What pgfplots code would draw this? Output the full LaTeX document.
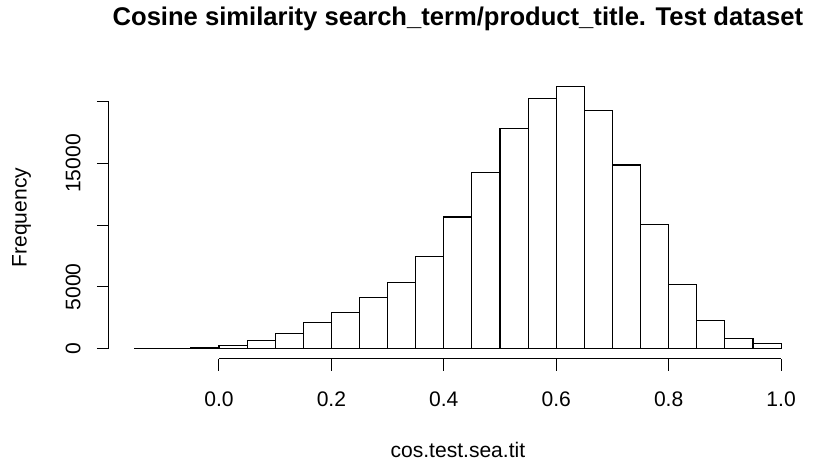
\documentclass[border=0pt]{standalone}
\usepackage{fontspec}
\setmainfont{Liberation Sans}
\usepackage{pgfplots}
\pgfplotsset{compat=1.18}
\begin{document}
\begin{tikzpicture}
\useasboundingbox (0,0) rectangle (612pt,346.5pt);
\begin{axis}[
  at={(81.6pt,77.4pt)}, anchor=south west,
  scale only axis, width=523.6pt, height=211.8pt,
  xmin=-0.196, xmax=1.046, ymin=-849, ymax=22069,
  clip=false,
  axis x line*=bottom, axis y line*=left,
  x axis line style={draw=none}, y axis line style={draw=none},
  scaled y ticks=false, scaled x ticks=false,
  xtick={0,0.2,0.4,0.6,0.8,1},
  xticklabels={0.0,0.2,0.4,0.6,0.8,1.0},
  ytick={0,5000,10000,15000,20000},
  yticklabels={0,5000,,15000,},
  tick align=outside, major tick length=9pt,
  tick style={black, line width=0.75pt},
  /pgf/number format/assume math mode=true,
  ticklabel style={font=\fontsize{15.8}{18}\selectfont, inner sep=0pt},
  xticklabel style={anchor=base},
  xticklabel shift=26.5pt,
  yticklabel style={rotate=90, anchor=south},
  yticklabel shift=12pt,
  title={Cosine similarity search\_term/product\_title. Test dataset},
  title style={at={(axis description cs:0.5,1.1525)}, anchor=base, inner sep=0pt,
    font=\fontsize{19.2}{22}\selectfont\bfseries},
  xlabel={cos.test.sea.tit},
  xlabel style={at={(axis description cs:0.5,-0.3503)}, anchor=base, inner sep=0pt,
    font=\fontsize{15.8}{18}\selectfont},
  ylabel={Frequency},
  ylabel style={at={(axis description cs:-0.1176,0.5)}, anchor=base, inner sep=0pt,
    font=\fontsize{15.8}{18}\selectfont},
]
\addplot[ybar interval, fill=white, draw=black, line width=0.8pt] coordinates {
(-0.15,3) (-0.10,10) (-0.05,60) (0.00,210) (0.05,620) (0.10,1190) (0.15,2065)
(0.20,2940) (0.25,4160) (0.30,5355) (0.35,7420) (0.40,10660) (0.45,14290)
(0.50,17850) (0.55,20240) (0.60,21220) (0.65,19270) (0.70,14880) (0.75,10040)
(0.80,5170) (0.85,2260) (0.90,820) (0.95,410) (1.00,410)
};
\draw[black, line width=0.75pt] (axis cs:0,-849) -- (axis cs:1,-849);
\draw[black, line width=0.75pt] (axis cs:-0.196,0) -- (axis cs:-0.196,20000);
\end{axis}
\end{tikzpicture}
\end{document}
